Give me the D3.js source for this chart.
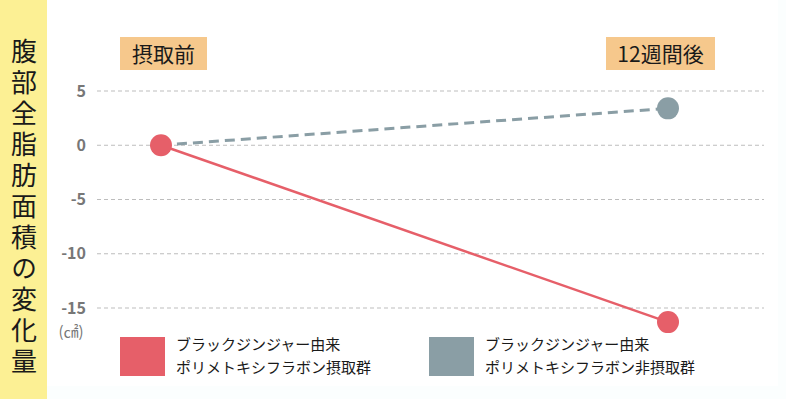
<!DOCTYPE html>
<html>
<head>
<meta charset="utf-8">
<script src="https://cdn.jsdelivr.net/npm/d3@7"></script>
<style>
  body { margin: 0; background: #fff; }
  text { font-family: "Noto Sans CJK JP", "Noto Sans", sans-serif; }
</style>
</head>
<body>
<script>
// data
var phases = ["摂取前", "12週間後"];
var yTicks = [5, 0, -5, -10, -15];
var takenValues = [0, -16.3];      // 摂取群
var notTakenValues = [0, 3.4];     // 非摂取群
var seriesNames = ["ブラックジンジャー由来\nポリメトキシフラボン摂取群",
                   "ブラックジンジャー由来\nポリメトキシフラボン非摂取群"];
var seriesColors = ["#e65f69", "#8a9ea5"];
var yTitle = "腹部全脂肪面積の変化量";

var W = 786, H = 399;
var svg = d3.select("body").append("svg").attr("width", W).attr("height", H);

// background bits
svg.append("rect").attr("x", 0).attr("y", 0).attr("width", W).attr("height", H).attr("fill", "#fbfefe");
svg.append("rect").attr("x", 47).attr("y", 0).attr("width", 731).attr("height", 386).attr("fill", "#ffffff");
svg.append("rect").attr("x", 0).attr("y", 0).attr("width", 47).attr("height", H).attr("fill", "#fcf094");

// vertical title, one text in vertical writing mode
svg.append("text")
    .attr("x", 24)
    .attr("y", 38)
    .attr("writing-mode", "vertical-rl")
    .attr("letter-spacing", 5)
    .attr("font-size", 26)
    .attr("fill", "#1a1a1a")
    .text(yTitle);

var x = d3.scalePoint().domain(phases).range([161, 668]);
var y = d3.scaleLinear().domain([-15, 5]).range([308, 91]);

// grid lines
svg.append("g").selectAll("line")
    .data(yTicks)
    .join("line")
    .attr("x1", 97).attr("x2", 764)
    .attr("y1", function(d) { return y(d); })
    .attr("y2", function(d) { return y(d); })
    .attr("stroke", "#bdbdbd")
    .attr("stroke-width", 1)
    .attr("stroke-dasharray", "4,3");

// y axis labels
var yAxis = svg.append("g")
    .attr("transform", "translate(86,0)")
    .call(d3.axisLeft(y).tickValues(yTicks).tickSize(0).tickPadding(0)
        .tickFormat(function(d) { return String(d); }));
yAxis.select(".domain").remove();
yAxis.selectAll("text")
    .attr("font-family", "'Open Sans', 'Noto Sans', sans-serif")
    .attr("font-size", 16)
    .attr("font-weight", "600")
    .attr("fill", "#777");

svg.append("text")
    .attr("x", 71).attr("y", 337)
    .attr("text-anchor", "middle")
    .attr("font-size", 15)
    .attr("fill", "#777")
    .text("(㎠)");

// phase labels
var phaseG = svg.append("g").selectAll("g")
    .data(phases)
    .join("g");
var boxW = [87, 109];
var boxX = [120, 606];
phaseG.append("rect")
    .attr("x", function(d, i) { return boxX[i]; })
    .attr("y", 37)
    .attr("width", function(d, i) { return boxW[i]; })
    .attr("height", 33)
    .attr("fill", "#f6c88c");
phaseG.append("text")
    .attr("x", function(d, i) { return boxX[i] + boxW[i] / 2; })
    .attr("y", 62)
    .attr("text-anchor", "middle")
    .attr("font-size", 21)
    .attr("fill", "#1a1a1a")
    .text(function(d) { return d; });

// lines
var line = d3.line()
    .x(function(d, i) { return x(phases[i]); })
    .y(function(d) { return y(d); });

svg.append("path")
    .datum(notTakenValues)
    .attr("d", line)
    .attr("fill", "none")
    .attr("stroke", seriesColors[1])
    .attr("stroke-width", 3)
    .attr("stroke-dasharray", "10,6");

svg.append("path")
    .datum(takenValues)
    .attr("d", line)
    .attr("fill", "none")
    .attr("stroke", seriesColors[0])
    .attr("stroke-width", 2.5);

svg.append("g").selectAll("circle")
    .data(notTakenValues.slice(1))
    .join("circle")
    .attr("cx", x(phases[1]))
    .attr("cy", function(d) { return y(d); })
    .attr("r", 11)
    .attr("fill", seriesColors[1]);

svg.append("g").selectAll("circle")
    .data(takenValues)
    .join("circle")
    .attr("cx", function(d, i) { return x(phases[i]); })
    .attr("cy", function(d) { return y(d); })
    .attr("r", 11)
    .attr("fill", seriesColors[0]);

// legend
var legX = [120, 429];
var leg = svg.append("g").selectAll("g")
    .data(seriesNames)
    .join("g")
    .attr("transform", function(d, i) { return "translate(" + legX[i] + ",337)"; });
leg.append("rect")
    .attr("width", 45).attr("height", 39)
    .attr("fill", function(d, i) { return seriesColors[i]; });
leg.append("text")
    .attr("x", 56)
    .attr("y", 0)
    .attr("font-size", 15)
    .attr("fill", "#1a1a1a")
    .selectAll("tspan")
    .data(function(d) { return d.split("\n"); })
    .join("tspan")
    .attr("x", 56)
    .attr("y", function(d, i) { return 13 + i * 23; })
    .text(function(d) { return d; });
</script>
</body>
</html>
